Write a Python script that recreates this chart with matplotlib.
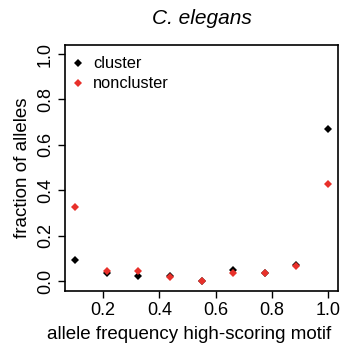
import numpy as np
import matplotlib
matplotlib.use("Agg")
import matplotlib.pyplot as plt

plt.rcParams["font.family"] = ["Liberation Sans", "DejaVu Sans"]

# allele frequency bins (x) and fraction of alleles per group
freq = [0.1, 0.2125, 0.325, 0.4375, 0.55, 0.6625, 0.775, 0.8875, 1.0]
cluster = [0.094, 0.035, 0.022, 0.022, 0.0, 0.048, 0.035, 0.072, 0.671]
noncluster = [0.327, 0.046, 0.046, 0.018, 0.0, 0.037, 0.035, 0.065, 0.427]

xticks = [0.2, 0.4, 0.6, 0.8, 1.0]
yticks = [0.0, 0.2, 0.4, 0.6, 0.8, 1.0]

fig = plt.figure(figsize=(3.46, 3.54), dpi=100)
ax = fig.add_axes([0.188, 0.178, 0.789, 0.695])

ax.plot(freq, cluster, "D", color="black", markersize=4.4, markeredgewidth=0, label="cluster")
ax.plot(freq, noncluster, "D", color="#e8302a", markersize=4.4, markeredgewidth=0, label="noncluster")

ax.set_xlim(0.064, 1.036)
ax.set_ylim(-0.044, 1.04)
ax.set_xticks(xticks)
ax.set_xticklabels([f"{v:.1f}" for v in xticks])
ax.set_yticks(yticks)
ax.set_yticklabels([f"{v:.1f}" for v in yticks], rotation=90, va="center")
ax.tick_params(direction="out", length=5, width=1.0, labelsize=13, pad=3)
for s in ax.spines.values():
    s.set_linewidth(1.2)

ax.set_xlabel("allele frequency high-scoring motif", fontsize=13.5)
ax.xaxis.set_label_coords(0.454, -0.143, transform=ax.transAxes)
ax.xaxis.label.set_va("top")
ax.set_ylabel("fraction of alleles", fontsize=13.5, labelpad=4)
ax.set_title("C. elegans", fontsize=15, style="italic", pad=15)

ax.legend(loc="upper left", frameon=False, fontsize=11.8, handletextpad=0.3,
          borderaxespad=0.3, labelspacing=0.3, handlelength=1.2,
          bbox_to_anchor=(-0.03, 1.0))

fig.savefig("out.png", dpi=100)
